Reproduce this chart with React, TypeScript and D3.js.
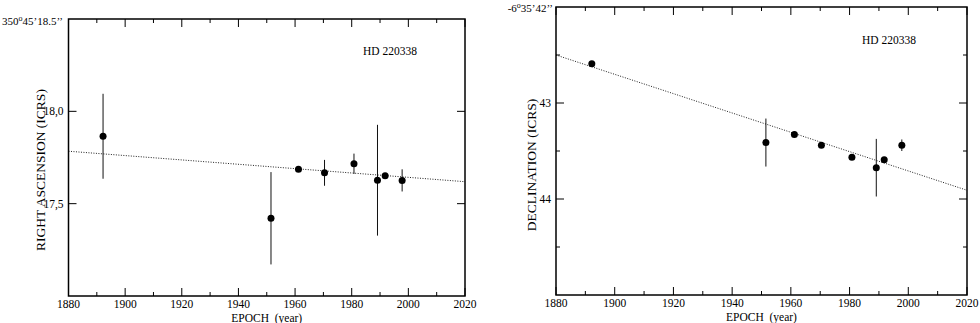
import React from "react";
import * as d3 from "d3";

const epochs = [1892.2, 1951.5, 1961.2, 1970.4, 1980.8, 1989.1, 1991.8, 1997.8];
const raValues = [17.865, 17.421, 17.687, 17.667, 17.716, 17.627, 17.651, 17.626];
const raErrors = [0.23, 0.25, 0, 0.07, 0.055, 0.3, 0, 0.06];
const decValues = [42.592, 43.412, 43.329, 43.44, 43.564, 43.674, 43.591, 43.44];
const decErrors = [0, 0.25, 0, 0, 0, 0.3, 0, 0.06];
const raFit = [17.784, 17.619];
const decFit = [42.5, 43.909];
const fitEpochs = [1880, 2020];
const xMajor = [1880, 1900, 1920, 1940, 1960, 1980, 2000, 2020];
const xMinor = [1890, 1910, 1930, 1950, 1970, 1990, 2010];
const raMajor = [17.5, 18.0];
const raMinor: number[] = [];
const decMajor = [43, 44];
const decMinor = [42.5, 43.5, 44.5];
const starName = "HD 220338";

const FONT = "Liberation Serif";
const ts = { fontFamily: FONT };

type PanelProps = {
  x0: number; x1: number; y0: number; y1: number;
  yDomain: [number, number];
  values: number[]; errors: number[]; fit: number[];
  major: number[]; minor: number[];
  fmt: (v: number) => string;
  yLabel: string;
  labelX: number; labelY: number;
  topLabel: { deg: string; rest: string; x: number; y: number };
  nameX: number; nameY: number;
};

function Panel(p: PanelProps) {
  const x = d3.scaleLinear().domain([1880, 2020]).range([p.x0, p.x1]);
  const y = d3.scaleLinear().domain(p.yDomain).range([p.y0, p.y1]);
  const line = d3.line<number>().x((_, i) => x(fitEpochs[i])).y((d) => y(d));
  const majLen = 8, minLen = 4;
  return (
    <g fill="#000">
      <path d={line(p.fit) || ""} fill="none" stroke="#222" strokeWidth={1} strokeDasharray="1 1.5" />
      {xMajor.map((t) => (
        <g key={"xM" + t}>
          <line x1={x(t)} x2={x(t)} y1={p.y1} y2={p.y1 - majLen} stroke="#000" />
          <line x1={x(t)} x2={x(t)} y1={p.y0} y2={p.y0 + majLen} stroke="#000" />
          <text style={ts} x={x(t)} y={p.y1 + 12} fontSize={11.5} textAnchor="middle">{t}</text>
        </g>
      ))}
      {xMinor.map((t) => (
        <g key={"xm" + t}>
          <line x1={x(t)} x2={x(t)} y1={p.y1} y2={p.y1 - minLen} stroke="#000" />
          <line x1={x(t)} x2={x(t)} y1={p.y0} y2={p.y0 + minLen} stroke="#000" />
        </g>
      ))}
      {p.major.map((t) => (
        <g key={"yM" + t}>
          <line x1={p.x0} x2={p.x0 + majLen} y1={y(t)} y2={y(t)} stroke="#000" />
          <line x1={p.x1} x2={p.x1 - majLen} y1={y(t)} y2={y(t)} stroke="#000" />
          <text style={ts} x={p.x0 - 5} y={y(t) + 4} fontSize={11.5} textAnchor="end">{p.fmt(t)}</text>
        </g>
      ))}
      {p.minor.map((t) => (
        <g key={"ym" + t}>
          <line x1={p.x0} x2={p.x0 + minLen} y1={y(t)} y2={y(t)} stroke="#000" />
          <line x1={p.x1} x2={p.x1 - minLen} y1={y(t)} y2={y(t)} stroke="#000" />
        </g>
      ))}
      {p.values.map((v, i) =>
        p.errors[i] > 0 ? (
          <line key={"e" + i} x1={x(epochs[i])} x2={x(epochs[i])} y1={y(v - p.errors[i])} y2={y(v + p.errors[i])} stroke="#111" strokeWidth={1} />
        ) : null
      )}
      {p.values.map((v, i) => (
        <circle key={"c" + i} cx={x(epochs[i])} cy={y(v)} r={3.5} fill="#000" />
      ))}
      <rect x={p.x0} y={p.y0} width={p.x1 - p.x0} height={p.y1 - p.y0} fill="none" stroke="#000" strokeWidth={1.5} />
      <text style={{ ...ts, whiteSpace: "pre" }} x={(p.x0 + p.x1) / 2} y={p.y1 + 26} fontSize={11.5} textAnchor="middle">EPOCH  (year)</text>
      <text style={ts} transform={`translate(${p.labelX},${p.labelY}) rotate(-90)`} fontSize={13.5} textAnchor="middle">{p.yLabel}</text>
      <text style={ts} x={p.topLabel.x} y={p.topLabel.y} fontSize={11} textAnchor="end">
        {p.topLabel.deg}
        <tspan fontSize={8} dy={-4}>o</tspan>
        <tspan dy={4}>{p.topLabel.rest}</tspan>
      </text>
      <text style={ts} x={p.nameX} y={p.nameY} fontSize={11.5}>{starName}</text>
    </g>
  );
}

export default function App() {
  return (
    <svg width={980} height={323} style={{ position: "absolute", left: 0, top: 0, background: "#fff", fontFamily: FONT }}>
      <rect width={980} height={323} fill="#fff" />
      <Panel
        x0={68.5} x1={465} y0={19} y1={296}
        yDomain={[18.5, 17.0]}
        values={raValues} errors={raErrors} fit={raFit}
        major={raMajor} minor={raMinor}
        fmt={(v) => d3.format(".1f")(v).replace(".", ",")}
        yLabel="RIGHT ASCENSION (ICRS)"
        labelX={45} labelY={170}
        topLabel={{ deg: "350", rest: "45’18.5’’", x: 63, y: 25 }}
        nameX={363} nameY={55}
      />
      <Panel
        x0={556} x1={967} y0={7} y1={295}
        yDomain={[42, 45]}
        values={decValues} errors={decErrors} fit={decFit}
        major={decMajor} minor={decMinor}
        fmt={(v) => String(v)}
        yLabel="DECLINATION (ICRS)"
        labelX={536} labelY={165}
        topLabel={{ deg: "-6", rest: "35’42’’", x: 553, y: 12 }}
        nameX={862} nameY={44}
      />
    </svg>
  );
}
